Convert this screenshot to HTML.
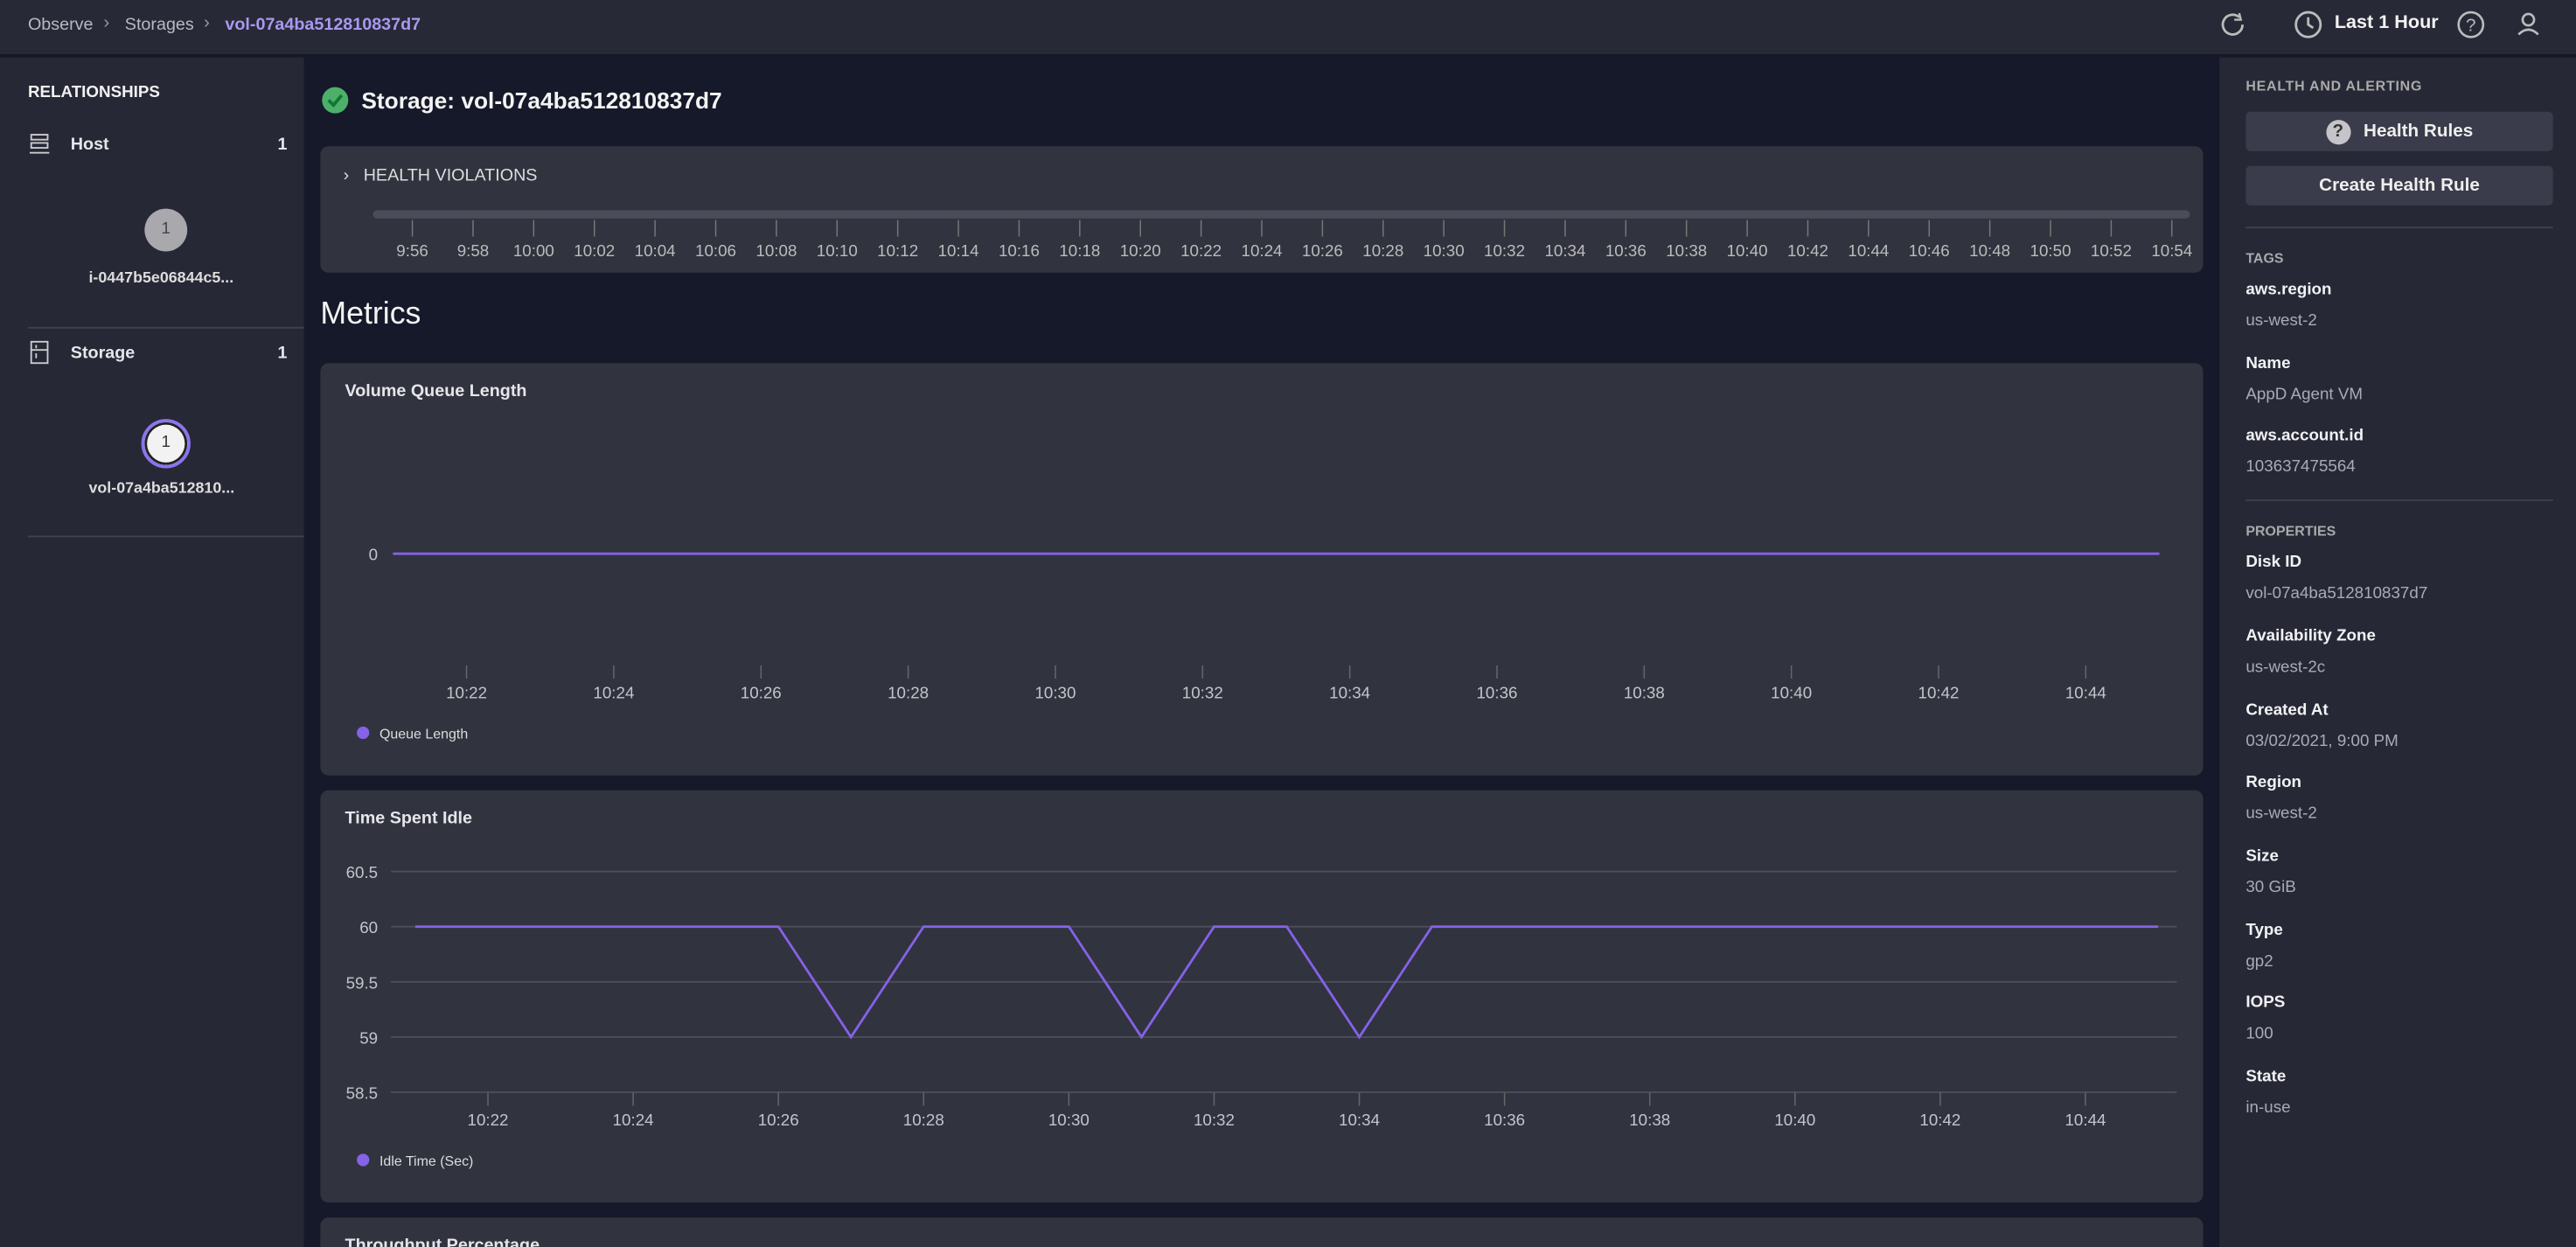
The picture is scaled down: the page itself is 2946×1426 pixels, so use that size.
<!DOCTYPE html>
<html><head><meta charset="utf-8">
<style>
html,body{margin:0;padding:0;background:#161929;overflow:hidden;width:2946px;height:1426px}
#w{position:absolute;left:0;top:0;width:1568px;height:759px;overflow:hidden;transform:scale(1.87883);transform-origin:0 0;font-family:"Liberation Sans",sans-serif;color:#e6e6ea;background:#161929}
.a{position:absolute;white-space:nowrap}
.card{position:absolute;background:#31333f;border-radius:5px}
.k{font-weight:bold;font-size:10px;color:#f2f2f4}
.v{font-size:10px;color:#a9abb4}
.btn{position:absolute;left:1367px;width:187px;height:24px;background:#3a3c4b;border-radius:3px;font-size:11px;font-weight:bold;color:#eee;display:flex;align-items:center;justify-content:center}
svg text{font-family:"Liberation Sans",sans-serif}
</style></head><body>
<div id="w">
<div class="a" style="left:0;top:0;width:1568px;height:33px;background:#272936"></div>
<div class="a" style="left:17px;top:9px;font-size:10.5px;color:#b8b9c2">Observe</div>
<div class="a" style="left:63px;top:8px;font-size:11px;color:#999">›</div>
<div class="a" style="left:76px;top:9px;font-size:10.5px;color:#b8b9c2">Storages</div>
<div class="a" style="left:124px;top:8px;font-size:11px;color:#999">›</div>
<div class="a" style="left:137px;top:9px;font-size:10.5px;color:#a998f0;font-weight:bold">vol-07a4ba512810837d7</div>
<svg class="a" style="left:1350px;top:5px" width="20" height="20"><path d="M15 10 A6 6 0 1 1 13 5.5" fill="none" stroke="#bbb" stroke-width="1.5"/><path d="M13 3 L14 7 L10 7" fill="none" stroke="#bbb" stroke-width="1.3"/></svg>
<svg class="a" style="left:1396px;top:6px" width="18" height="18"><circle cx="9" cy="9" r="7.5" fill="none" stroke="#bbb" stroke-width="1.5"/><path d="M9 4.5V9L12 11" fill="none" stroke="#bbb" stroke-width="1.5"/></svg>
<div class="a" style="left:1421px;top:8px;font-size:11.5px;font-weight:bold;color:#f2f2f2">Last 1 Hour</div>
<svg class="a" style="left:1495px;top:6px" width="18" height="18"><circle cx="9" cy="9" r="7.5" fill="none" stroke="#bbb" stroke-width="1.4"/><text x="9" y="13" text-anchor="middle" font-size="11" fill="#bbb">?</text></svg>
<svg class="a" style="left:1530px;top:6px" width="18" height="18"><circle cx="9" cy="6" r="3.5" fill="none" stroke="#bbb" stroke-width="1.4"/><path d="M3 15 Q9 9 15 15" fill="none" stroke="#bbb" stroke-width="1.4"/></svg>

<div class="a" style="left:0;top:35px;width:185px;height:724px;background:#262836"></div>
<div class="a" style="left:17px;top:51px;font-size:10px;font-weight:bold;color:#f2f2f2">RELATIONSHIPS</div>
<svg class="a" style="left:18px;top:81px" width="14" height="14"><rect x="1" y="1" width="10" height="3" fill="none" stroke="#ccc"/><rect x="1" y="6" width="10" height="3" fill="none" stroke="#ccc"/><path d="M0 12H12" stroke="#ccc"/></svg>
<div class="a" style="left:43px;top:82px;font-size:10.5px;font-weight:bold">Host</div>
<div class="a" style="left:169px;top:82px;font-size:10.5px;font-weight:bold">1</div>
<div class="a" style="left:88px;top:127px;width:26px;height:26px;border-radius:50%;background:#a8a8ad;color:#444;font-size:10px;text-align:center;line-height:26px">1</div>
<div class="a" style="left:54px;top:164px;font-size:9.5px;font-weight:bold;color:#ddd">i-0447b5e06844c5...</div>
<div class="a" style="left:17px;top:199px;width:168px;height:1px;background:#3f4150"></div>
<svg class="a" style="left:18px;top:207px" width="14" height="16"><rect x="1" y="1" width="10" height="13" fill="none" stroke="#ccc"/><path d="M1 6H11M4 3V5M4 8V11" stroke="#ccc"/></svg>
<div class="a" style="left:43px;top:209px;font-size:10.5px;font-weight:bold">Storage</div>
<div class="a" style="left:169px;top:209px;font-size:10.5px;font-weight:bold">1</div>
<div class="a" style="left:86px;top:255px;width:26px;height:26px;border-radius:50%;background:#f2f2f2;border:2px solid #8a74ee;box-shadow:inset 0 0 0 1.5px #222;color:#333;font-size:10px;text-align:center;line-height:26px">1</div>
<div class="a" style="left:54px;top:292px;font-size:9.5px;font-weight:bold;color:#ddd">vol-07a4ba512810...</div>
<div class="a" style="left:17px;top:326px;width:168px;height:1px;background:#3f4150"></div>

<svg class="a" style="left:195px;top:52px" width="18" height="18"><circle cx="9" cy="9" r="8" fill="#4caf6a"/><path d="M5 9L8 12L13 6" fill="none" stroke="#173" stroke-width="2"/></svg>
<div class="a" style="left:220px;top:53px;font-size:14px;font-weight:bold;color:#f4f4f4">Storage: vol-07a4ba512810837d7</div>

<div class="card" style="left:195px;top:89px;width:1146px;height:77px"></div>
<div class="a" style="left:209px;top:101px;font-size:10.5px;color:#ddd">›&nbsp;&nbsp; HEALTH VIOLATIONS</div>
<svg class="a" id="hv" style="left:195px;top:89px" width="1146" height="77"></svg>

<div class="a" style="left:195px;top:181px;font-size:19px;color:#f4f4f4">Metrics</div>

<div class="card" style="left:195px;top:221px;width:1146px;height:251px"></div>
<div class="a" style="left:210px;top:232px;font-size:10.5px;font-weight:bold">Volume Queue Length</div>
<svg class="a" id="c1" style="left:195px;top:221px" width="1146" height="251"></svg>

<div class="card" style="left:195px;top:481px;width:1146px;height:251px"></div>
<div class="a" style="left:210px;top:492px;font-size:10.5px;font-weight:bold">Time Spent Idle</div>
<svg class="a" id="c2" style="left:195px;top:481px" width="1146" height="251"></svg>

<div class="card" style="left:195px;top:741px;width:1146px;height:40px"></div>
<div class="a" style="left:210px;top:752px;font-size:10.5px;font-weight:bold">Throughput Percentage</div>

<div class="a" style="left:1351px;top:35px;width:217px;height:724px;background:#262836"></div>
<div class="a" style="left:1367px;top:47px;font-size:8.5px;font-weight:bold;color:#aaa;letter-spacing:.4px">HEALTH AND ALERTING</div>
<div class="btn" style="top:68px"><span style="display:inline-block;width:15px;height:15px;border-radius:50%;background:#c4c4c9;color:#333;font-size:11px;text-align:center;line-height:15px;margin-right:8px">?</span>Health Rules</div>
<div class="btn" style="top:101px">Create Health Rule</div>
<div class="a" style="left:1367px;top:138px;width:187px;height:1px;background:#3f4150"></div>
<div class="a" style="left:1367px;top:152px;font-size:8.5px;font-weight:bold;color:#aaa">TAGS</div>
<div class="a" style="left:1367px;top:304px;width:187px;height:1px;background:#3f4150"></div>
<div class="a" style="left:1367px;top:318px;font-size:8.5px;font-weight:bold;color:#aaa">PROPERTIES</div>
</div>
<script>
const NS="http://www.w3.org/2000/svg";
function el(p,t,a){const e=document.createElementNS(NS,t);for(const k in a)e.setAttribute(k,a[k]);p.appendChild(e);return e;}
const hvLabels=["9:56","9:58","10:00","10:02","10:04","10:06","10:08","10:10","10:12","10:14","10:16","10:18","10:20","10:22","10:24","10:26","10:28","10:30","10:32","10:34","10:36","10:38","10:40","10:42","10:44","10:46","10:48","10:50","10:52","10:54"];
const xTickLabels=["10:22","10:24","10:26","10:28","10:30","10:32","10:34","10:36","10:38","10:40","10:42","10:44"];
const xTickMinutes=[22,24,26,28,30,32,34,36,38,40,42,44];
const queueMinutes=[21,22,23,24,25,26,27,28,29,30,31,32,33,34,35,36,37,38,39,40,41,42,43,44,45];
const queueValues=[0,0,0,0,0,0,0,0,0,0,0,0,0,0,0,0,0,0,0,0,0,0,0,0,0];
const idleMinutes=[21,22,23,24,25,26,27,28,29,30,31,32,33,34,35,36,37,38,39,40,41,42,43,44,45];
const idleValues=[60,60,60,60,60,60,59,60,60,60,59,60,60,59,60,60,60,60,60,60,60,60,60,60,60];
const idleYTicks=[58.5,59,59.5,60,60.5];
const PURPLE='#8562e6';

const hv=document.getElementById('hv');
el(hv,'rect',{x:32,y:39,width:1106,height:5,rx:2.5,fill:'#4a4c5a'});
hvLabels.forEach((l,i)=>{const x=56+i*(1071/29);
 const t=el(hv,'line',{x1:x,x2:x,y1:45,y2:55,stroke:'#777','stroke-width':.8});
 
 
 const tx=el(hv,'text',{x:x,y:67,'text-anchor':'middle','font-size':10,fill:'#bbb'});tx.textContent=l;
 
 });

function chart(svg,opt){
 const X=m=>opt.x0+(m-22)*opt.pm;
 const Y=v=>opt.y(v);
 opt.yticks.forEach(v=>{
  if(opt.grid){const g=el(svg,'line',{x1:43,x2:1130,y1:Y(v),y2:Y(v),stroke:'#4c4e5b','stroke-width':1});
   
   }
  const t=el(svg,'text',{x:35,y:Y(v)+4,'text-anchor':'end','font-size':10,fill:'#c4c4ca'});t.textContent=String(v);
  
  
 });
 xTickMinutes.forEach((m,i)=>{const x=X(m);
  const l=el(svg,'line',{x1:x,x2:x,y1:opt.axisY,y2:opt.axisY+8,stroke:'#666','stroke-width':.8});
  
  
  const t=el(svg,'text',{x:x,y:opt.axisY+20,'text-anchor':'middle','font-size':10,fill:'#c4c4ca'});t.textContent=xTickLabels[i];
  
  
 });
 const pts=opt.xs.map((m,i)=>X(m)+','+Y(opt.vs[i])).join(' ');
 const p=el(svg,'polyline',{points:pts,fill:'none',stroke:PURPLE,'stroke-width':1.5});
 
 
 const c=el(svg,'circle',{cx:26,cy:225,r:3.8,fill:PURPLE});
 
 
 const lt=el(svg,'text',{x:36,y:228.5,'font-size':8.5,fill:'#ddd'});lt.textContent=opt.legend;
 
 
}
chart(document.getElementById('c1'),{x0:89,pm:44.8,axisY:184,yticks:[0],grid:false,y:v=>116-v*40,xs:queueMinutes,vs:queueValues,legend:'Queue Length'});
chart(document.getElementById('c2'),{x0:102,pm:44.2,axisY:184,yticks:idleYTicks,grid:true,y:v=>83+(60-v)*67.2,xs:idleMinutes,vs:idleValues,legend:'Idle Time (Sec)'});

const kv=[["aws.region","us-west-2",177],["Name","AppD Agent VM",222],["aws.account.id","103637475564",266],
["Disk ID","vol-07a4ba512810837d7",343],["Availability Zone","us-west-2c",388],["Created At","03/02/2021, 9:00 PM",433],["Region","us-west-2",477],["Size","30 GiB",522],["Type","gp2",567],["IOPS","100",611],["State","in-use",656]];
const w=document.getElementById('w');
kv.forEach(([k,v,y])=>{
 const a=document.createElement('div');a.className='a k';a.style.left='1367px';a.style.top=(y-6)+'px';a.textContent=k;
 
 
 w.appendChild(a);
 const b=document.createElement('div');b.className='a v';b.style.left='1367px';b.style.top=(y+13)+'px';b.textContent=v;
 
 
 w.appendChild(b);
});
</script>
</body></html>
